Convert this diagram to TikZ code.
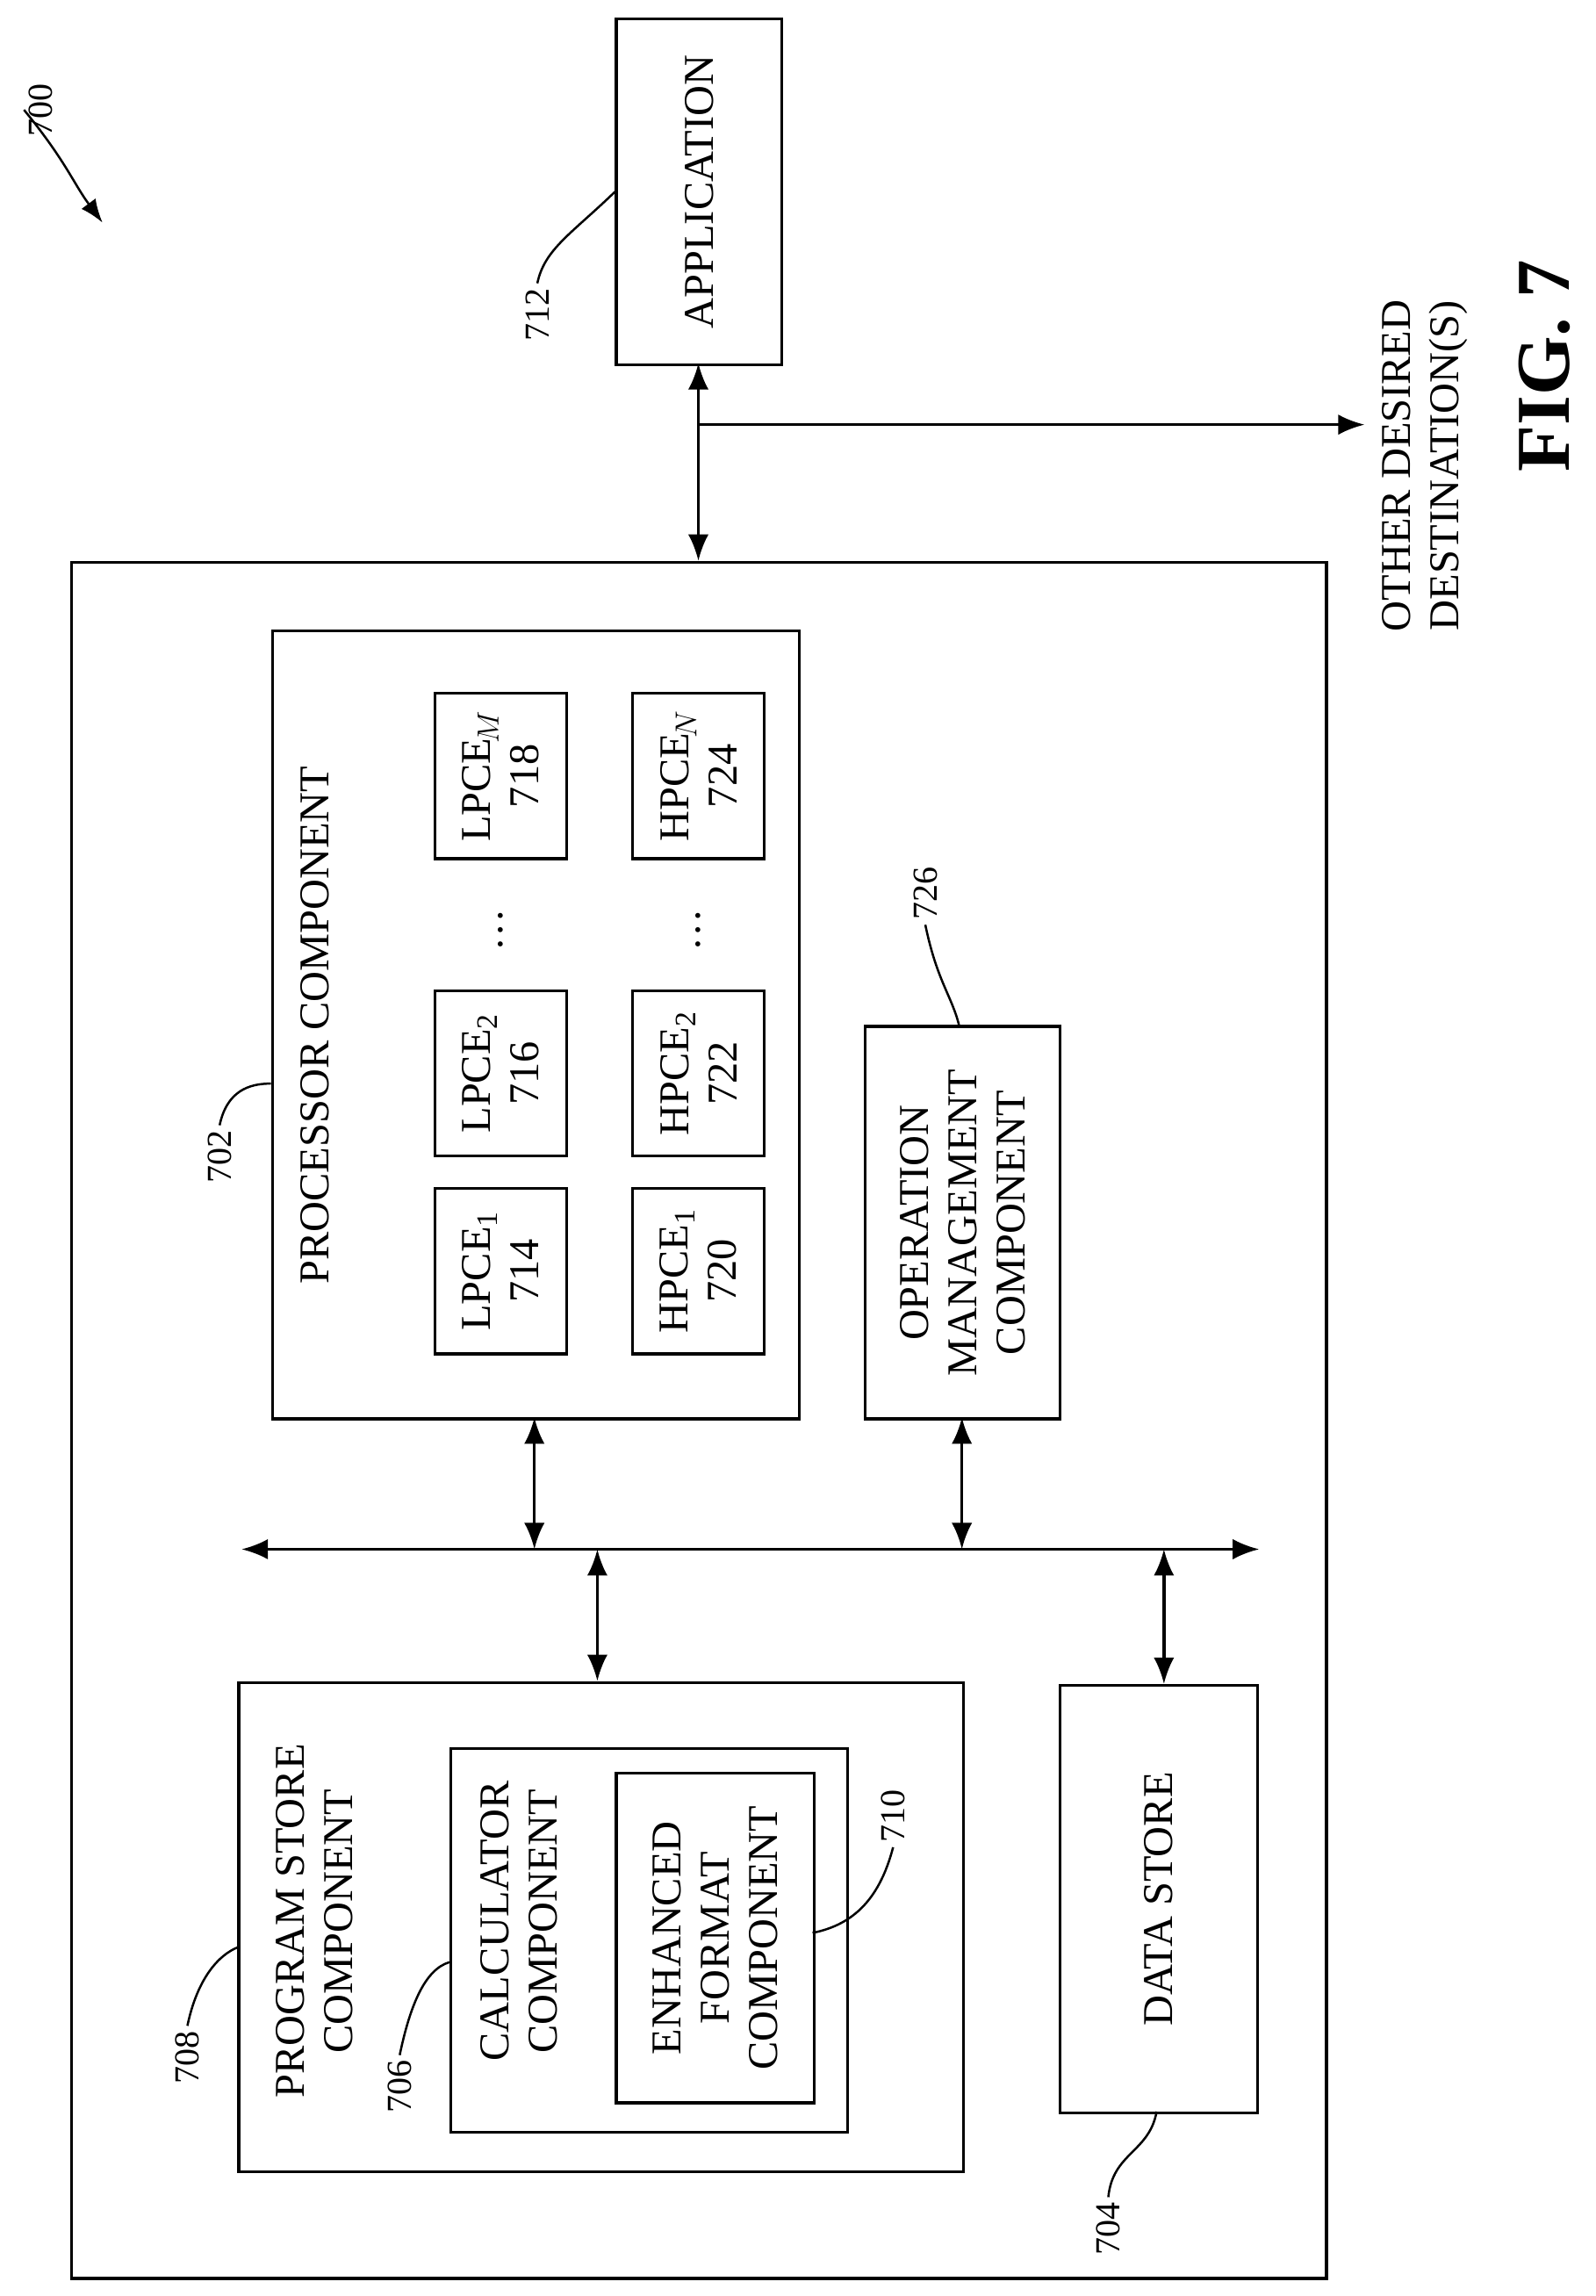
\documentclass[tikz,border=0pt]{standalone}
\usepackage{fontspec}
\setmainfont{Liberation Serif}
\usetikzlibrary{arrows.meta}
\begin{document}
\begin{tikzpicture}[x=1pt,y=-1pt,
  box/.style={draw,line width=2pt},
  txt/.style={rotate=90,align=center,font=\fontsize{29}{33}\selectfont},
  lab/.style={rotate=90,font=\fontsize{24}{28}\selectfont},
  dbl/.style={line width=2pt,{Latex[length=18pt,width=14pt]}-{Latex[length=18pt,width=14pt]}},
  sgl/.style={line width=2pt,-{Latex[length=18pt,width=14pt]}},
  ld/.style={line width=1.5pt}]
\useasboundingbox (0,0) rectangle (1090,1568);
% outer
\node[box,minimum width=857pt,minimum height=1172pt,anchor=north west] (outer) at (48,383) {};
% application
\node[box,minimum width=113pt,minimum height=236pt,anchor=north west] (app) at (420,12) {};
\node[txt] at (app.center) {APPLICATION};
\node[lab] (l712) at (367,215) {712};
\draw[ld] (l712.east) .. controls (372,170) and (390,160) .. (app.west);
\coordinate (appb) at (477,248);
\coordinate (outt) at (477,383);
\draw[dbl] (appb) -- (outt);
\coordinate (br) at (477,290);
\coordinate (od) at (932,290);
\draw[sgl] (br) -- (od);
\node[txt] (other) at (973,318) {OTHER DESIRED\\DESTINATION(S)};
\node[rotate=90,font=\bfseries\fontsize{52}{58}\selectfont] (fig) at (1055,250) {FIG. 7};
% 700
\node[lab] (l700) at (28,75) {700};
\coordinate (a700) at (70,152);
\draw[ld,-{Latex[length=16pt,width=12pt]}] (l700.north) .. controls (45,110) and (50,125) .. (a700);
% processor
\node[box,minimum width=360pt,minimum height=538pt,anchor=north west] (proc) at (185,430) {};
\node[txt] at (215,700) {PROCESSOR COMPONENT};
\node[lab] (l702) at (150,790) {702};
\draw[ld] (l702.east) .. controls (155,745) and (170,740) .. (185,740);
\foreach \n/\t/\y in {l718/{LPCE$_{\!M}$\\718}/530, l716/{LPCE\textsubscript{2}\\716}/733, l714/{LPCE\textsubscript{1}\\714}/868}{
  \node[box,minimum width=90pt,minimum height=113pt] (\n) at (342,\y) {};
  \node[txt] at (\n.center) {\t};}
\foreach \n/\t/\y in {h724/{HPCE$_{\!N}$\\724}/530, h722/{HPCE\textsubscript{2}\\722}/733, h720/{HPCE\textsubscript{1}\\720}/868}{
  \node[box,minimum width=90pt,minimum height=113pt] (\n) at (477,\y) {};
  \node[txt] at (\n.center) {\t};}
\node[txt] (d1) at (342,635) {\dots};
\node[txt] (d2) at (477,635) {\dots};
% operation mgmt
\node[box,minimum width=133pt,minimum height=268pt,anchor=north west] (op) at (590,700) {};
\node[txt] at (op.center) {OPERATION\\MANAGEMENT\\COMPONENT};
\node[lab] (l726) at (632,610) {726};
\draw[ld] (l726.west) .. controls (640,670) and (650,680) .. (655,700);
% bus
\coordinate (bl) at (165,1058);
\coordinate (brr) at (860,1058);
\draw[dbl] (bl) -- (brr);
\coordinate (b1) at (365,1058);
\coordinate (b2) at (657,1058);
\coordinate (b3) at (408,1058);
\coordinate (b4) at (795,1058);
\coordinate (p1) at (365,968);
\coordinate (p2) at (657,968);
\coordinate (p3) at (408,1148);
\coordinate (p4) at (795,1150);
\draw[dbl] (p1) -- (b1);
\draw[dbl] (p2) -- (b2);
\draw[dbl] (b3) -- (p3);
\draw[dbl] (b4) -- (p4);
% program store
\node[box,minimum width=495pt,minimum height=334pt,anchor=north west] (ps) at (162,1148) {};
\node[txt,anchor=north] at (185,1312) {PROGRAM STORE\\COMPONENT};
\node[lab] (l708) at (128,1405) {708};
\draw[ld] (l708.east) .. controls (135,1350) and (150,1335) .. (162,1330);
\node[box,minimum width=271pt,minimum height=262pt,anchor=north west] (calc) at (307,1193) {};
\node[txt,anchor=north] at (325,1312) {CALCULATOR\\COMPONENT};
\node[lab] (l706) at (273,1425) {706};
\draw[ld] (l706.east) .. controls (280,1370) and (290,1345) .. (307,1340);
\node[box,minimum width=135pt,minimum height=225pt,anchor=north west] (enh) at (420,1210) {};
\node[txt] at (enh.center) {ENHANCED\\FORMAT\\COMPONENT};
\node[lab] (l710) at (610,1240) {710};
\draw[ld] (l710.west) .. controls (600,1300) and (580,1315) .. (555,1320);
% data store
\node[box,minimum width=135pt,minimum height=292pt,anchor=north west] (ds) at (723,1150) {};
\node[txt] at (ds.center) {DATA STORE};
\node[lab] (l704) at (757,1522) {704};
\draw[ld] (l704.east) .. controls (760,1470) and (785,1470) .. (790,1442);
\end{tikzpicture}
\end{document}
